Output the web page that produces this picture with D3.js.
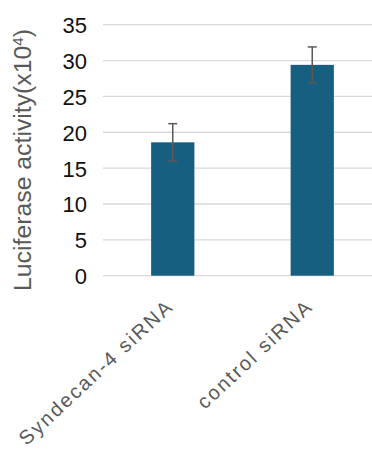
<!DOCTYPE html>
<html>
<head>
<meta charset="utf-8">
<script src="https://cdn.jsdelivr.net/npm/d3@7/dist/d3.min.js"></script>
<style>
  html, body { margin: 0; padding: 0; background: #fff; }
  svg { display: block; }
</style>
</head>
<body>
<div id="chart"></div>
<script>
// Luciferase reporter assay: mean activity with error bars
const categories = ["Syndecan-4 siRNA", "control siRNA"];
const values = [18.6, 29.4];
const errors = [2.6, 2.5];
const yTicks = [0, 5, 10, 15, 20, 25, 30, 35];

const width = 372, height = 449;

const svg = d3.select("#chart").append("svg")
  .attr("width", width).attr("height", height);

const x = d3.scaleBand()
  .domain(categories)
  .range([103, 382])
  .paddingInner(0.69)
  .paddingOuter(0.345);

const y = d3.scaleLinear()
  .domain([0, 35])
  .range([275.7, 24.7]);

// horizontal gridlines
svg.append("g")
  .selectAll("line")
  .data(yTicks)
  .join("line")
  .attr("x1", 103).attr("x2", width)
  .attr("y1", d => y(d)).attr("y2", d => y(d))
  .attr("stroke", "#d9d9d9")
  .attr("stroke-width", 1.3);

// y axis tick labels
const yAxis = d3.axisLeft(y).tickValues(yTicks).tickSize(0).tickPadding(0);
const gy = svg.append("g").attr("transform", "translate(87,0)").call(yAxis);
gy.select(".domain").remove();
gy.selectAll("text")
  .attr("font-family", "Liberation Sans, Arial, sans-serif")
  .attr("font-size", 22)
  .attr("fill", "#111")
  .attr("dy", "0.36em");

// bars
svg.append("g")
  .selectAll("rect")
  .data(values)
  .join("rect")
  .attr("x", (d, i) => x(categories[i]))
  .attr("width", x.bandwidth())
  .attr("y", d => y(d))
  .attr("height", d => y(0) - y(d))
  .attr("fill", "#175f80");

// error bars
const eb = svg.append("g")
  .attr("stroke", "#595959")
  .attr("stroke-width", 1.5)
  .selectAll("g")
  .data(values)
  .join("g");
eb.append("line")
  .attr("x1", (d, i) => x(categories[i]) + x.bandwidth() / 2)
  .attr("x2", (d, i) => x(categories[i]) + x.bandwidth() / 2)
  .attr("y1", (d, i) => y(d + errors[i]))
  .attr("y2", (d, i) => y(d - errors[i]));
[1, -1].forEach(s => {
  eb.append("line")
    .attr("x1", (d, i) => x(categories[i]) + x.bandwidth() / 2 - 4.5)
    .attr("x2", (d, i) => x(categories[i]) + x.bandwidth() / 2 + 4.5)
    .attr("y1", (d, i) => y(d + s * errors[i]))
    .attr("y2", (d, i) => y(d + s * errors[i]));
});

// x category labels, rotated
svg.append("g")
  .selectAll("text")
  .data(categories)
  .join("text")
  .attr("transform", d => `translate(${x(d) + x.bandwidth() / 2 + 2},${308}) rotate(-43)`)
  .attr("text-anchor", "end")
  .attr("font-family", "Liberation Sans, Arial, sans-serif")
  .attr("font-size", 20)
  .attr("letter-spacing", 2.1)
  .attr("fill", "#595959")
  .text(d => d);

// y axis title
const title = svg.append("text")
  .attr("transform", "translate(31,160) rotate(-90)")
  .attr("text-anchor", "middle")
  .attr("font-family", "Liberation Sans, Arial, sans-serif")
  .attr("font-size", 24.8)
  .attr("fill", "#595959");
title.append("tspan").text("Luciferase activity(x10");
title.append("tspan").attr("baseline-shift", "super").attr("font-size", 15).text("4");
title.append("tspan").text(")");
</script>
</body>
</html>
